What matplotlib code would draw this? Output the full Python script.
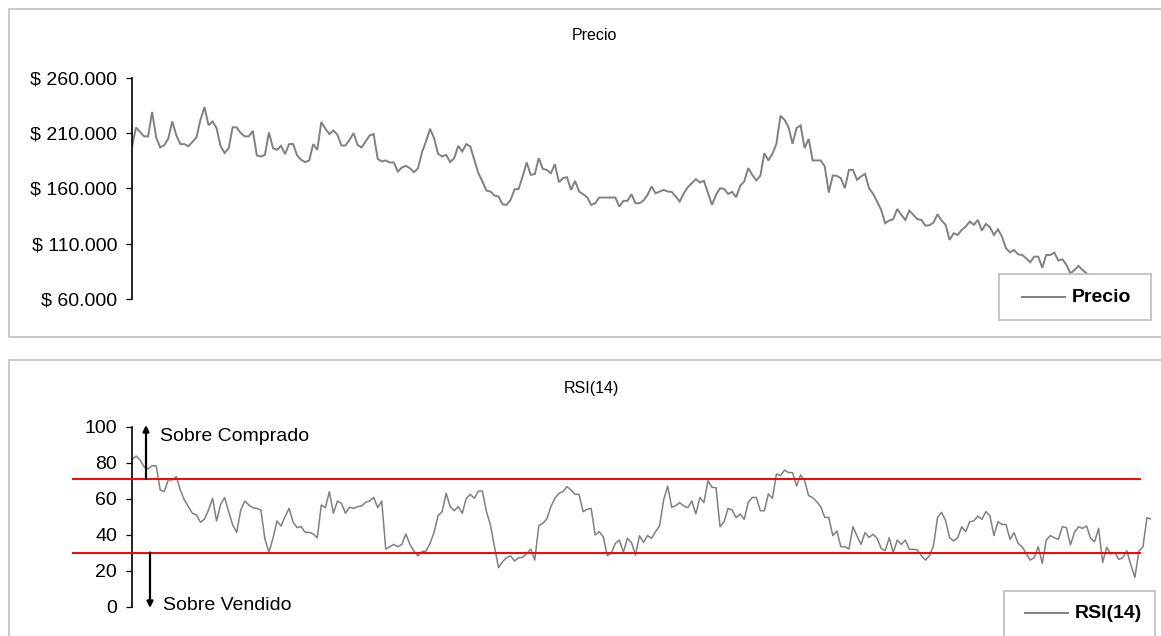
import numpy as np
import matplotlib
matplotlib.use("Agg")
import matplotlib.pyplot as plt
from matplotlib.patches import Rectangle
from matplotlib.lines import Line2D
from matplotlib.ticker import FuncFormatter, MultipleLocator

plt.rcParams['font.family'] = ['Liberation Sans', 'DejaVu Sans']

# ---------------- DATA ----------------
titulo_precio = "Precio"
titulo_rsi = "RSI(14)"
serie_precio = "Precio"
serie_rsi = "RSI(14)"
texto_sobrecompra = "Sobre Comprado"
texto_sobreventa = "Sobre Vendido"

# precio de cierre (miles de $)
precio_miles = [
    197.8, 215, 211, 207, 207, 229, 206, 197, 199, 205, 220.5, 208, 200, 200, 198, 202, 206, 222,
    233.4, 217, 220.5, 214.4, 198, 192, 196.3, 215.3, 215, 210, 207, 207, 212, 189.7, 188.8, 190.3,
    210.5, 196.3, 194.8, 198.4, 190.9, 200, 200, 189.7, 185.8, 183.7, 185.2, 200, 194.8, 219.9, 214,
    209, 212.3, 208.4, 198.7, 198.7, 203.9, 209.9, 199.3, 196.9, 202.4, 207.8, 209, 186.7, 184.3,
    185.2, 183.4, 183.4, 175.2, 178.8, 180.3, 178.2, 174.6, 178.2, 192.7, 202.4, 213.8, 205.4, 191.2,
    188.8, 190.3, 183.7, 187.3, 198.4, 193.3, 200, 197.8, 185.8, 173.7, 166.2, 158, 157.1, 153.5,
    152.6, 145.6, 145, 149.6, 159.2, 159.5, 171, 183.4, 172.2, 172.8, 187.3, 177.6, 176.7, 173.7,
    181.8, 165.6, 169.2, 170.1, 158.6, 166.8, 157.1, 154.7, 152, 145, 146.5, 151.7, 151.7, 151.7,
    151.7, 151.7, 143.5, 148.7, 148.7,
    154.7, 146.6, 146.6, 149, 154.1, 161.7, 155.6, 157.1, 158.6, 157.1, 156.8, 152.6, 148.1, 155.6,
    161.1, 164.7, 168.3, 165.3, 166.8, 156, 145.1, 154.1, 160.1, 159.5, 155, 156.8, 152, 162.3,
    166.2, 178.3, 172.2, 167.1, 171.3, 191.8, 185.2, 191.2, 200.3, 225.6, 222, 215.4, 200.3, 214.5,
    216.9, 196.4, 204.8, 185.2, 185.2, 185.2, 179.8, 156.2, 171.6, 171.3, 169.2, 160.1, 176.7, 176.7,
    167.7, 170.7, 173.1, 160.1, 155, 148, 140.5, 128.5, 130.9, 132.1, 141.4, 136, 131.5, 139.9, 136,
    132.1, 131.5, 126.3, 126.7, 129.1, 136.6, 130.9, 127, 113.4, 119.4, 117.9, 122.4, 125.5, 130,
    127, 131.5, 121.8, 127.9, 124.9, 117.9, 123.0, 116.4, 105.8, 102.2, 104.3, 100.4, 99.8, 96.8,
    93.2, 98.3, 98.3, 88.3, 99.8, 99.8, 101.9, 94.7, 95.9, 90.8, 83.2, 86.2, 89.9, 86.2, 83.2,
    81, 82, 79, 80, 77, 78, 76, 74, 75, 72, 73, 70, 71, 74, 78, 80,
]

# RSI(14)
rsi = [
    81.4, 83.6, 81.4, 77.7, 76.4, 78.2, 78.2, 64.7, 63.8, 70.3, 70.3, 72.1, 64.7, 59.2, 55.5, 51.8,
    50.8, 46.8, 48.6, 53.6, 60.1, 47.5, 56.7, 60.5, 52.7, 45.3, 41.2, 53.6, 58.6, 56.4, 54.9, 54.5,
    53.6, 37.5, 30.1, 37.9, 47.5, 44.7, 49.9, 54.5, 46.8, 43.8, 44.4, 41.2, 41.2, 40.3, 38.2, 56.4,
    54.9, 63.8, 51.8, 58.6, 57.3, 51.8, 55.1, 54.5, 55.5, 55.8, 57.9, 58.6, 60.6, 54.9, 58.6, 31.9,
    33.2, 34.5, 33.2, 34.5, 40.3, 34.5, 30.8, 28.1, 30.5, 30.8, 35.1, 41.2, 50.5, 52.7, 62.9, 55.5,
    53.2, 55.5, 51.8, 60.1, 62.3, 60.1, 64.1, 64.1, 52.7, 45.3, 33.2, 21.6, 24.9, 27.1, 28.1, 25.3,
    27.1, 27.3, 29.5, 31.9, 25.8, 44.9, 46.2, 48.6, 55.5, 60.1, 62.9, 63.8, 66.6, 64.7, 62.3, 62.3,
    52.7, 54.0, 54.5, 39.7, 41.6, 38.8, 28.3, 29.5, 35.1, 36.9, 30.1, 37.9, 35.6, 28.6, 39.3, 35.6,
    39.4, 37.9, 41.6, 44.9, 59.2, 66.9, 55.1, 56.0, 57.7, 55.8, 54.9, 58.6, 51.4, 60.6, 57.7, 69.9,
    66.2, 66.0, 44.3, 47.1, 54.5, 53.6, 49.4, 51.4, 48.4, 57.9, 60.6, 60.6, 53.2, 53.2, 62.5, 60.1,
    73.6, 72.7, 75.8, 74.4, 74.4, 66.9, 73.1, 69.9, 61.6, 60.5, 58.2, 55.5, 49.5, 49.5, 39.4, 41.9,
    33.2, 33.2, 31.9, 44.3, 39.2, 34.5, 41.0, 38.4, 40.1, 37.9, 32.3, 31.0, 38.2, 29.9, 36.9, 34.5,
    36.9, 31.8, 31.8, 31.4, 28.2, 25.8, 28.2, 33.8, 49.5, 52.3, 47.7, 38.2, 36.4, 38.2, 44.3, 41.6,
    47.1, 47.5, 50.3, 48.4, 52.7, 50.5, 39.4, 47.1, 45.6, 45.6, 37.3, 41.0, 35.1, 33.2, 29.5, 25.8,
    27.1, 33.2, 24.0, 36.9, 39.4, 38.2, 37.3, 44.3, 43.8, 34.2, 41.2, 44.3, 43.4, 44.7, 37.9, 36.0,
    43.4, 24.5, 32.9, 29.2, 30.1, 26.2, 27.1, 31.0, 23.1, 16.2, 30.8, 33.2, 49.3, 48.6,
]

nivel_sobrecompra = 71
nivel_sobreventa = 30
ticks_precio = [60000, 110000, 160000, 210000, 260000]
ticks_rsi = [0, 20, 40, 60, 80, 100]

precio = np.array(precio_miles) * 1000.0
rsi = np.array(rsi)

# ---------------- LAYOUT ----------------
W, H = 1161, 636
fig = plt.figure(figsize=(W / 100, H / 100), dpi=100)
fig.patch.set_facecolor('white')

def fx(px):
    return px / W

def fy(py):
    return 1 - py / H

GRIS = '#808080'
BORDE = '#c0c0c0'
FS = 14

# chart-area boxes
for (x0, y0, x1, y1) in [(9, 9, 1180, 337), (9, 360, 1180, 660)]:
    fig.patches.append(Rectangle((fx(x0), fy(y1)), fx(x1) - fx(x0), fy(y0) - fy(y1),
                                 transform=fig.transFigure, fill=False,
                                 edgecolor=BORDE, linewidth=1.2, zorder=0))

ax_left, ax_right = 132, 1151

def make_ax(ytop, ybot):
    ax = fig.add_axes([fx(ax_left), fy(ybot), fx(ax_right) - fx(ax_left), fy(ytop) - fy(ybot)])
    ax.set_facecolor('none')
    for s in ['top', 'right', 'bottom']:
        ax.spines[s].set_visible(False)
    ax.spines['left'].set_linewidth(1.2)
    ax.spines['left'].set_color('black')
    ax.tick_params(axis='y', direction='out', length=4.3, width=0.9, pad=6.5,
                   labelsize=FS, colors='black')
    ax.set_xticks([])
    return ax

# ---- Price ----
ax1 = make_ax(77.7, 299)
x1 = np.arange(len(precio))
ax1.plot(x1, precio, color=GRIS, linewidth=1.4, solid_joinstyle='miter')
ax1.set_xlim(0, len(precio) - 1)
ax1.set_ylim(ticks_precio[0], ticks_precio[-1])
ax1.set_yticks(ticks_precio)
ax1.yaxis.set_major_formatter(FuncFormatter(lambda v, p: "$ " + f"{v:,.0f}".replace(",", ".")))
fig.text(fx(594), fy(36), titulo_precio, ha='center', va='center', fontsize=11.5)

# ---- RSI ----
ax2 = make_ax(426.5, 606.5)
x2 = np.arange(len(rsi))
ax2.plot(x2, rsi, color=GRIS, linewidth=1.1)
ax2.set_xlim(0, len(rsi) - 1)
ax2.set_ylim(ticks_rsi[0], ticks_rsi[-1])
ax2.set_yticks(ticks_rsi)
fig.text(fx(591), fy(389), titulo_rsi, ha='center', va='center', fontsize=11.5)

xa = lambda px: (px - ax_left) / (ax_right - ax_left)
for lvl in (nivel_sobrecompra, nivel_sobreventa):
    ax2.axhline(lvl, xmin=xa(73), xmax=xa(1140), color='#ff0000', linewidth=1.4,
                clip_on=False, zorder=3)

ax2.annotate("", xy=(xa(146), 100.8), xytext=(xa(146), nivel_sobrecompra),
             xycoords=('axes fraction', 'data'), textcoords=('axes fraction', 'data'),
             arrowprops=dict(arrowstyle='-|>', color='black', lw=1.6, mutation_scale=9,
                             shrinkA=0, shrinkB=0), annotation_clip=False)
ax2.annotate("", xy=(xa(150), -0.8), xytext=(xa(150), nivel_sobreventa),
             xycoords=('axes fraction', 'data'), textcoords=('axes fraction', 'data'),
             arrowprops=dict(arrowstyle='-|>', color='black', lw=1.6, mutation_scale=9,
                             shrinkA=0, shrinkB=0), annotation_clip=False)
ax2.text(xa(160), 94.2, texto_sobrecompra, transform=ax2.get_yaxis_transform(),
         ha='left', va='center', fontsize=FS, clip_on=False)
ax2.text(xa(163), 0.6, texto_sobreventa, transform=ax2.get_yaxis_transform(),
         ha='left', va='center', fontsize=FS, clip_on=False)

# ---- legends (Excel-style boxes) ----
def legend_box(x0, y0, x1, y1, lx0, lx1, ly, tx, label):
    fig.patches.append(Rectangle((fx(x0), fy(y1)), fx(x1) - fx(x0), fy(y0) - fy(y1),
                                 transform=fig.transFigure, facecolor='white',
                                 edgecolor=BORDE, linewidth=1.3, zorder=5))
    fig.lines.append(Line2D([fx(lx0), fx(lx1)], [fy(ly), fy(ly)], transform=fig.transFigure,
                            color=GRIS, linewidth=1.4, zorder=6))
    fig.text(fx(tx), fy(ly), label, ha='left', va='center', fontsize=FS,
             fontweight='bold', zorder=7)

legend_box(999, 274, 1151, 320, 1022, 1065, 297, 1072, serie_precio)
legend_box(1004, 591, 1155, 660, 1025, 1068, 613, 1075, serie_rsi)

fig.savefig("out.png", dpi=100, facecolor='white')
